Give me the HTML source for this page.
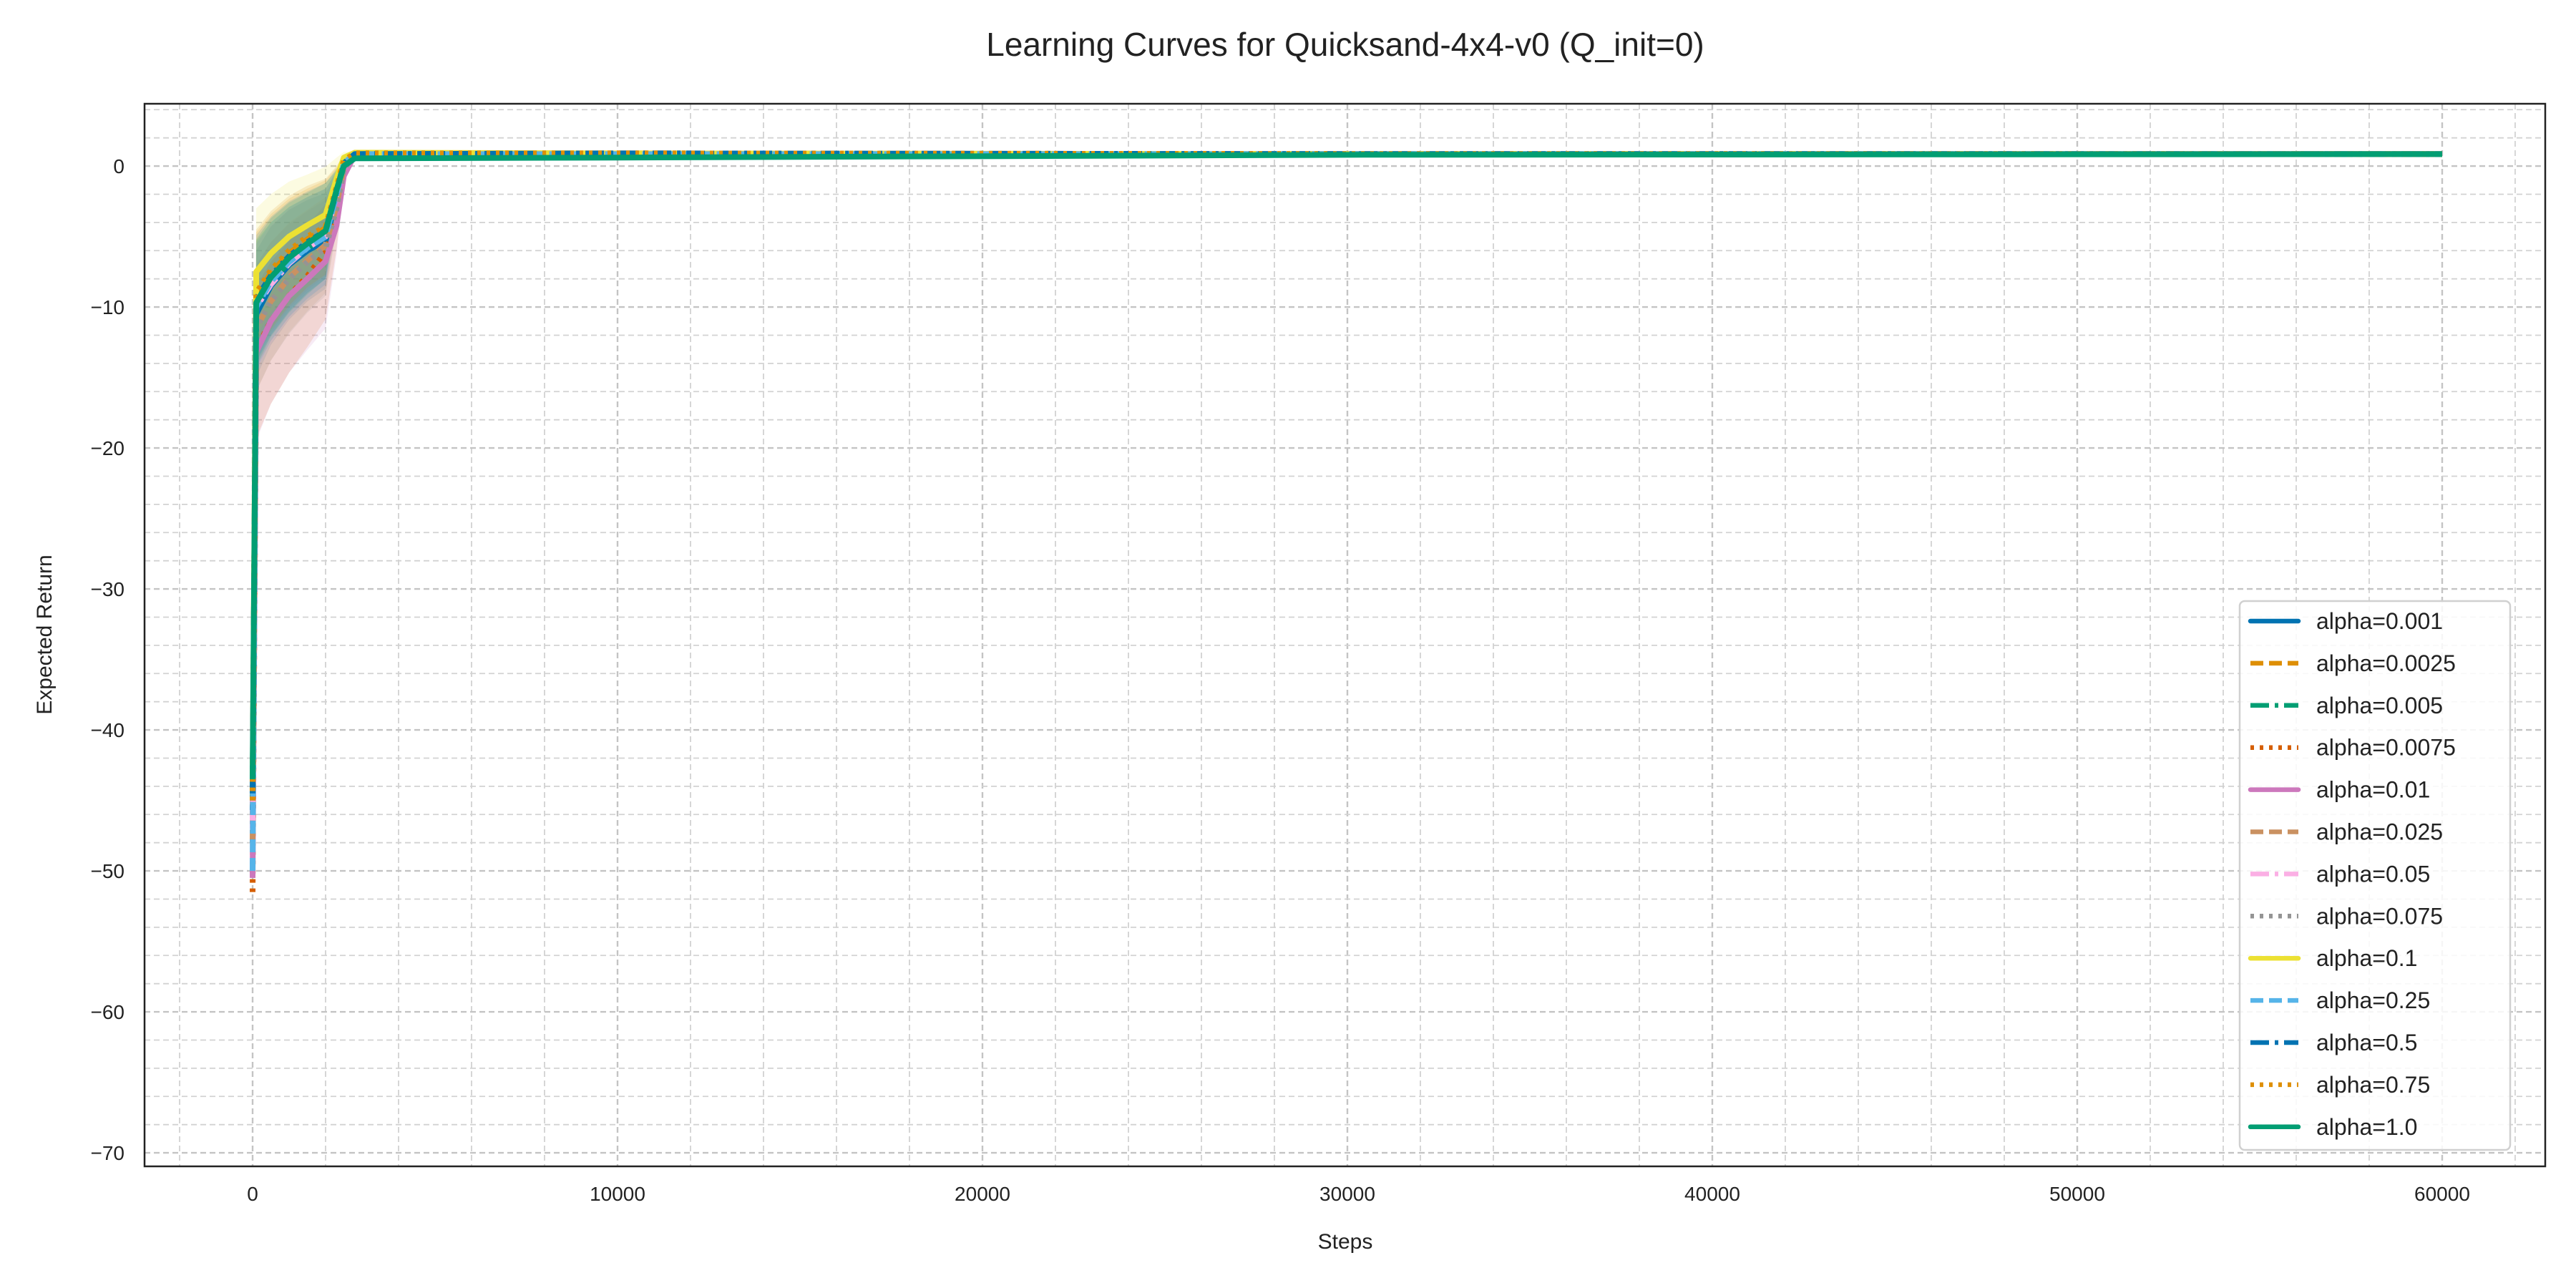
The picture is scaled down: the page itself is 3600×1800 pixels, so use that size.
<!DOCTYPE html>
<html><head><meta charset="utf-8"><style>
html,body{margin:0;padding:0;background:#fff;}
svg{display:block;font-family:"Liberation Sans",Arial,sans-serif;}
</style></head><body>
<svg id="chart" width="3600" height="1800" viewBox="0 0 3600 1800" xmlns="http://www.w3.org/2000/svg">
<rect width="3600" height="1800" fill="#fff"/>
<text x="1880" y="78" font-size="46" text-anchor="middle" fill="#222">Learning Curves for Quicksand-4x4-v0 (Q_init=0)</text>
<g id="grid"></g>
<g id="bands"></g>
<g id="lines"></g>
<rect x="202" y="145" width="3355" height="1485" fill="none" stroke="#222" stroke-width="2.5"/>
<g id="ticks"></g>
<text x="1880" y="1745" font-size="30" text-anchor="middle" fill="#222">Steps</text>
<text x="0" y="0" font-size="30" text-anchor="middle" fill="#222" transform="translate(72,887) rotate(-90)">Expected Return</text>
<g id="legend"></g>
</svg>
<script>
const steps = [0, 100, 500, 1000, 1500, 2000, 2300, 2500, 2800, 10000, 30000, 60000];
const labels = ["alpha=0.001","alpha=0.0025","alpha=0.005","alpha=0.0075","alpha=0.01","alpha=0.025","alpha=0.05","alpha=0.075","alpha=0.1","alpha=0.25","alpha=0.5","alpha=0.75","alpha=1.0"];
const s0 = [-46, -45, -45, -51.5, -50.5, -48, -47, -48, -44.5, -50, -44.5, -45, -43.5];
const s1 = [-10.5, -9.2, -9.8, -13, -13.2, -11.5, -10, -11.5, -7.5, -10, -9.4, -9, -9.7];
const s2 = [-8.5, -7.6, -8.2, -11, -11, -9.6, -8.4, -9.6, -6.2, -8.2, -7.8, -7.4, -7.9];
const s3 = [-7, -6.2, -6.8, -9.2, -9.2, -7.9, -6.9, -8.0, -5, -6.8, -6.4, -6.0, -6.5];
const s4 = [-6, -5.2, -5.8, -7.8, -8, -6.7, -5.8, -6.8, -4.2, -5.8, -5.4, -5.0, -5.5];
const s5 = [-5.3, -4.4, -5.0, -6.1, -6.75, -5.6, -5.0, -5.8, -3.45, -5, -4.6, -4.3, -4.6];
const s6 = [-2.2, -1.6, -1.8, -3.8, -4.2, -2.8, -2.0, -3.0, -0.9, -2.0, -1.8, -1.5, -1.7];
const s7 = [0.2, 0.4, 0.1, -0.6, -0.7, -0.1, 0.3, -0.2, 0.6, 0.2, 0.2, 0.4, 0.0];
const s8 = [0.85, 0.9, 0.75, 0.8, 0.8, 0.8, 0.9, 0.8, 0.95, 0.85, 0.85, 0.9, 0.55];
const s9 = [0.85, 0.9, 0.8, 0.85, 0.85, 0.85, 0.9, 0.85, 0.9, 0.85, 0.9, 0.9, 0.6];
const s10 = [0.85, 0.85, 0.85, 0.85, 0.85, 0.85, 0.85, 0.85, 0.85, 0.85, 0.85, 0.85, 0.8];
const s11 = [0.85, 0.85, 0.85, 0.85, 0.85, 0.85, 0.85, 0.85, 0.85, 0.85, 0.85, 0.85, 0.85];
const seriesByStep = [s0,s1,s2,s3,s4,s5,s6,s7,s8,s9,s10,s11];
const spread = [0.3, 4.5, 4.2, 3.9, 3.6, 3.4, 1.5, 0.4, 0.1, 0.05, 0.05, 0.05];
const xTicks = [0, 10000, 20000, 30000, 40000, 50000, 60000];
const yTicks = [0, -10, -20, -30, -40, -50, -60, -70];

const colors = ["#0173b2","#de8f05","#029e73","#d55e00","#cc78bc","#ca9161","#fbafe4","#949494","#ece133","#56b4e9","#0173b2","#de8f05","#029e73"];
const dashes = ["", "18,8", "26,8,5,8", "5,8"];
const NS = "http://www.w3.org/2000/svg";
const X0 = 202, X1 = 3557, Y0 = 145, Y1 = 1630;
const xmin = -2961, xmax = 62824, ymax = 4.42, ymin = -70.96;
const sx = v => X0 + (v - xmin) / (xmax - xmin) * (X1 - X0);
const sy = v => Y1 - (v - ymin) / (ymax - ymin) * (Y1 - Y0);
function mk(tag, attrs, parent){ const e = document.createElementNS(NS, tag); for (const k in attrs) e.setAttribute(k, attrs[k]); parent.appendChild(e); return e; }

const grid = document.getElementById('grid');
for (let v = -2000; v <= 62000; v += 2000) {
  const major = v % 10000 === 0;
  const l = mk('line', {x1: sx(v), x2: sx(v), y1: Y0, y2: Y1, stroke: major ? '#c4c4c4' : '#d2d2d2', 'stroke-width': major ? 2.4 : 1.8, 'stroke-dasharray': '8,5'}, grid);
  
  
}
for (let v = 4; v >= -70; v -= 2) {
  const major = v % 10 === 0;
  const l = mk('line', {x1: X0, x2: X1, y1: sy(v), y2: sy(v), stroke: major ? '#c4c4c4' : '#d2d2d2', 'stroke-width': major ? 2.4 : 1.8, 'stroke-dasharray': '8,5'}, grid);
  
  
}

const ticks = document.getElementById('ticks');
xTicks.forEach(v => {
  const t = mk('text', {x: sx(v), y: 1678, 'font-size': 28, 'text-anchor': 'middle', fill: '#222'}, ticks);
  t.textContent = v;
  
  
});
yTicks.forEach(v => {
  const t = mk('text', {x: 174, y: sy(v) + 10, 'font-size': 28, 'text-anchor': 'end', fill: '#222'}, ticks);
  t.textContent = v < 0 ? '\u2212' + Math.abs(v) : v;
  
  
});

const bands = document.getElementById('bands'), lines = document.getElementById('lines');
labels.forEach((lab, i) => {
  const vals = seriesByStep.map(s => s[i]);
  const up = vals.map((v, k) => sx(steps[k]) + ',' + sy(v + spread[k]));
  const lo = vals.map((v, k) => sx(steps[k]) + ',' + sy(v - spread[k] * (i === 4 || i === 3 ? 1.4 : 1))).reverse();
  const b = mk('polygon', {points: up.concat(lo).join(' '), fill: colors[i], 'fill-opacity': 0.15}, bands);
  
  
});
labels.forEach((lab, i) => {
  const vals = seriesByStep.map(s => s[i]);
  const p = mk('polyline', {points: vals.map((v, k) => sx(steps[k]) + ',' + sy(v)).join(' '), fill: 'none', stroke: colors[i], 'stroke-width': 8, 'stroke-dasharray': dashes[i % 4], 'stroke-linejoin': 'round'}, lines);
  
  
});

const leg = document.getElementById('legend');
const box = mk('rect', {x: 3130, y: 840, width: 378, height: 767, rx: 7, fill: '#fff', 'fill-opacity': 0.85, stroke: '#d0d0d0', 'stroke-width': 2.5}, leg);


labels.forEach((lab, i) => {
  const y = 868 + i * 58.9;
  const g = mk('g', {}, leg);
  
  
  mk('line', {x1: 3145, x2: 3212, y1: y, y2: y, stroke: colors[i], 'stroke-width': 6.5, 'stroke-dasharray': dashes[i % 4], 'stroke-linecap': i % 4 === 0 ? 'round' : 'butt'}, g);
  const t = mk('text', {x: 3237, y: y + 11, 'font-size': 32, fill: '#222'}, g);
  t.textContent = lab;
});
</script>
</body></html>
